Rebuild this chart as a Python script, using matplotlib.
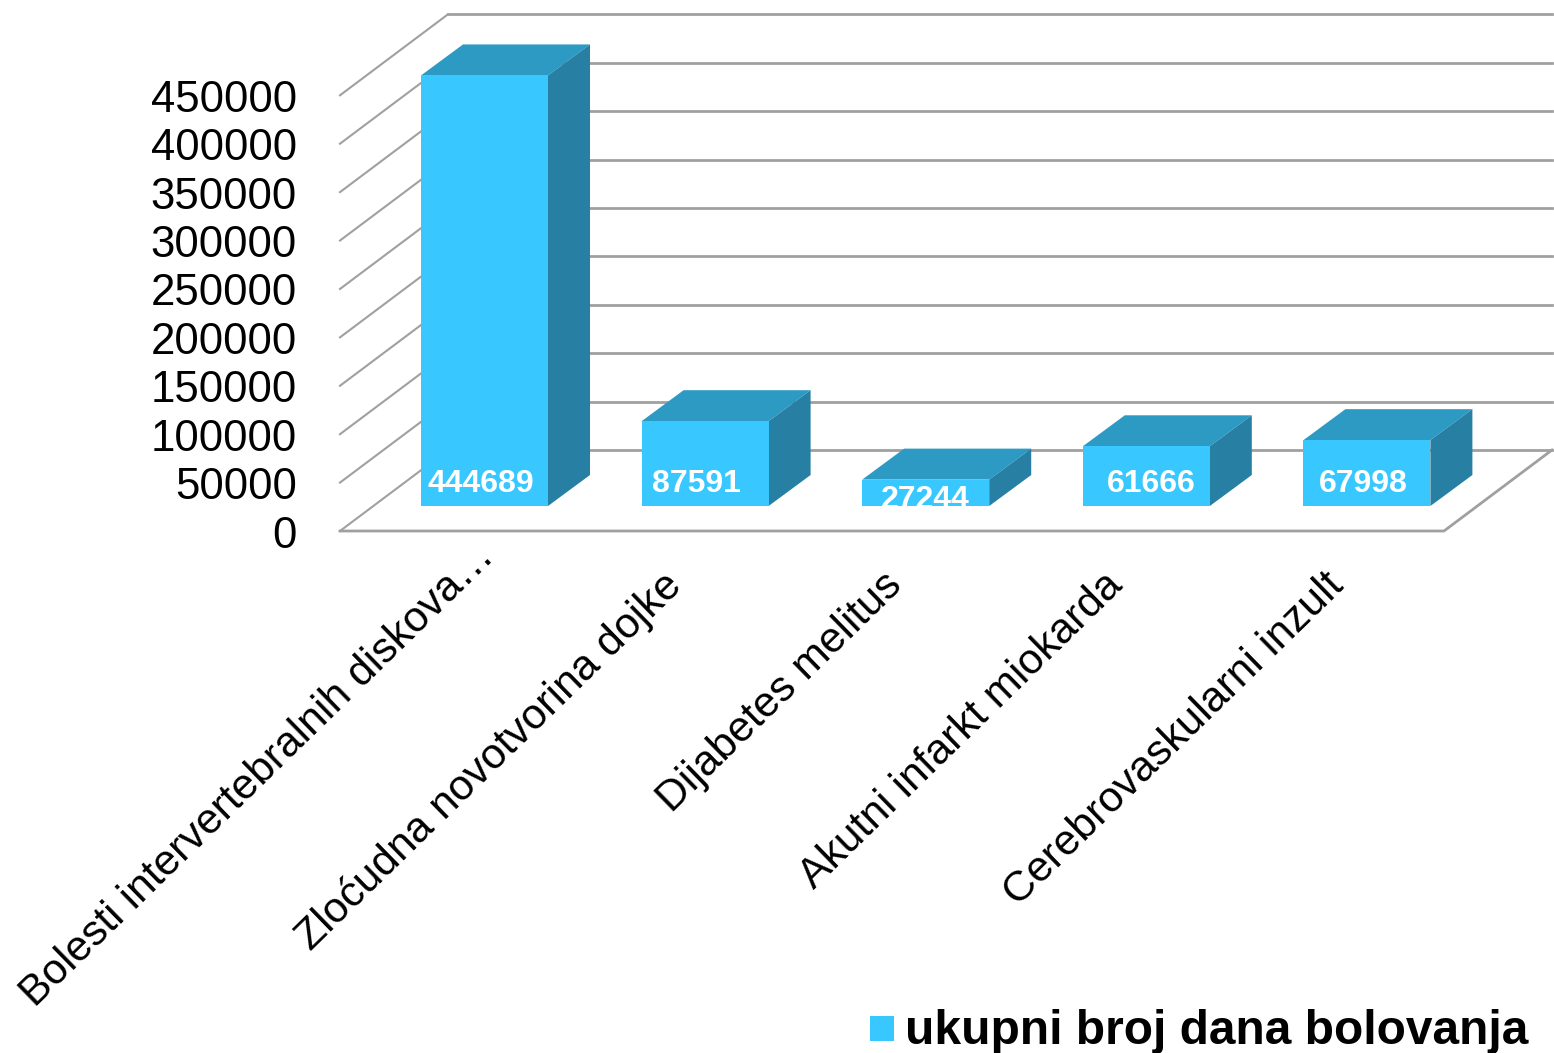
import matplotlib
matplotlib.use("Agg")
import matplotlib.pyplot as plt
from matplotlib.patches import Polygon, Rectangle

plt.rcParams['font.family'] = ['Liberation Sans', 'DejaVu Sans']

categories = ["Bolesti intervertebralnih diskova…", "Zloćudna novotvorina dojke",
              "Dijabetes melitus", "Akutni infarkt miokarda", "Cerebrovaskularni inzult"]
values = [444689, 87591, 27244, 61666, 67998]
value_ticks = [0, 50000, 100000, 150000, 200000, 250000, 300000, 350000, 400000, 450000]
series_name = "ukupni broj dana bolovanja"

W, H = 1554, 1053
FRONT = "#38C8FF"
TOP = "#2D9AC4"
SIDE = "#277FA3"
GRID = "#A0A0A0"

# Axes fill the canvas in pixel units; heights go through one value-to-pixel scale.
fig = plt.figure(figsize=(W / 100, H / 100), dpi=100)
ax = fig.add_axes([0, 0, 1, 1])
ax.set_xlim(0, W)
ax.set_ylim(H, 0)
ax.axis("off")

PX_PER_UNIT = 435.7 / 450000
FLOOR_FRONT = 531
BAR_BASE = 506
WALL_DX, WALL_DY = 108, -81
BAR_DX, BAR_DY = 42, -31
BAR_W = 127
BAR_LEFT0, BAR_STEP = 421, 220.6
LEFT_X, RIGHT_X = 340, 1444
LABEL_SHIFT = [-4, -9, 0, 5, -4]
LABEL_Y = [481, 481, 497, 481, 481]
CATEGORY_ANCHOR_X = [53, 20, 20, 20, 20]
CATEGORY_ANCHOR_Y = [536, 565, 565, 565, 565]


def wall_y(v):
    return FLOOR_FRONT - v * PX_PER_UNIT


# Back-wall gridlines and their slanted continuation on the side wall
for v in value_ticks:
    y = wall_y(v)
    ax.plot([LEFT_X, LEFT_X + WALL_DX], [y, y + WALL_DY], color=GRID, lw=1.5, zorder=1)
    ax.plot([LEFT_X + WALL_DX, RIGHT_X + WALL_DX], [y + WALL_DY, y + WALL_DY],
            color=GRID, lw=2, zorder=1)
    ax.text(297, y + 0.5, f"{v}", ha="right", va="center_baseline", fontsize=31.5, color="black")

# Floor outline
ax.plot([LEFT_X, RIGHT_X, RIGHT_X + WALL_DX],
        [FLOOR_FRONT, FLOOR_FRONT, FLOOR_FRONT + WALL_DY], color=GRID, lw=2, zorder=1)

# Bars: front face, lid and side face
for i, (name, v) in enumerate(zip(categories, values)):
    x0 = BAR_LEFT0 + i * BAR_STEP
    x1 = x0 + BAR_W
    top = BAR_BASE - v * PX_PER_UNIT
    ax.add_patch(Polygon([(x0, top), (x1, top), (x1 + BAR_DX, top + BAR_DY), (x0 + BAR_DX, top + BAR_DY)],
                         closed=True, fc=TOP, ec="none", zorder=3))
    ax.add_patch(Polygon([(x1, top), (x1 + BAR_DX, top + BAR_DY),
                          (x1 + BAR_DX, BAR_BASE + BAR_DY), (x1, BAR_BASE)],
                         closed=True, fc=SIDE, ec="none", zorder=3))
    face = Rectangle((x0, top), BAR_W, BAR_BASE - top, fc=FRONT, ec="none", zorder=4)
    ax.add_patch(face)
    label = ax.text(x0 + BAR_W / 2 + LABEL_SHIFT[i], LABEL_Y[i], f"{v}",
                    ha="center", va="center_baseline", fontsize=23, fontweight="bold",
                    color="white", zorder=5)
    label.set_clip_path(face)
    # Category label, rotated and anchored under the bar
    ax.text(x0 + CATEGORY_ANCHOR_X[i], CATEGORY_ANCHOR_Y[i], name, rotation=44.3,
            rotation_mode="anchor", ha="right", va="top", fontsize=30.7, color="black")

# Legend
ax.add_patch(Rectangle((870, 1016), 24, 25, fc=FRONT, ec="none"))
ax.text(905, 1027, series_name, ha="left", va="center_baseline",
        fontsize=34.5, fontweight="bold", color="black")

fig.savefig("out.png", dpi=100)
